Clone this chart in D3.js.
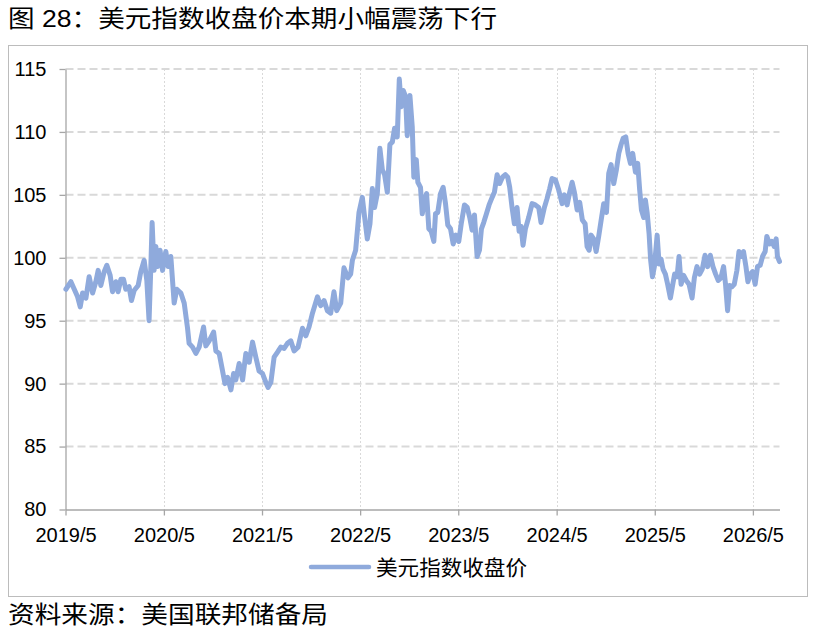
<!DOCTYPE html>
<html>
<head>
<meta charset="utf-8">
<script src="https://cdn.jsdelivr.net/npm/d3@7"></script>
<style>
  body { margin: 0; background: #fff; }
  svg { display: block; }
</style>
</head>
<body>
<svg id="chart" width="817" height="636"></svg>
<script>
// dates as decimal years
const dateYears = [
    2019.333, 2019.384, 2019.418, 2019.452, 2019.479, 2019.503, 2019.537, 2019.570, 2019.605, 2019.638,
    2019.662, 2019.689, 2019.723, 2019.750, 2019.784, 2019.808, 2019.842, 2019.865, 2019.893, 2019.920,
    2019.943, 2019.977, 2020.001, 2020.028, 2020.069, 2020.096, 2020.130, 2020.157, 2020.180, 2020.198,
    2020.211, 2020.231, 2020.249, 2020.266, 2020.292, 2020.317, 2020.350, 2020.374, 2020.401, 2020.435,
    2020.462, 2020.503, 2020.537, 2020.571, 2020.587, 2020.622, 2020.656, 2020.689, 2020.734, 2020.757,
    2020.791, 2020.836, 2020.859, 2020.893, 2020.927, 2020.951, 2020.978, 2021.012, 2021.039, 2021.062,
    2021.096, 2021.131, 2021.164, 2021.198, 2021.232, 2021.266, 2021.299, 2021.334, 2021.368, 2021.391,
    2021.419, 2021.452, 2021.487, 2021.520, 2021.554, 2021.588, 2021.622, 2021.656, 2021.696, 2021.741,
    2021.775, 2021.808, 2021.843, 2021.894, 2021.927, 2021.961, 2021.995, 2022.029, 2022.062, 2022.090,
    2022.131, 2022.164, 2022.205, 2022.232, 2022.250, 2022.283, 2022.317, 2022.351, 2022.375, 2022.402,
    2022.429, 2022.453, 2022.476, 2022.504, 2022.530, 2022.555, 2022.578, 2022.606, 2022.632, 2022.657,
    2022.680, 2022.707, 2022.728, 2022.748, 2022.768, 2022.792, 2022.809, 2022.836, 2022.860, 2022.876,
    2022.901, 2022.917, 2022.944, 2022.962, 2022.985, 2023.006, 2023.029, 2023.053, 2023.080, 2023.097,
    2023.120, 2023.148, 2023.175, 2023.199, 2023.222, 2023.250, 2023.277, 2023.304, 2023.334, 2023.359,
    2023.392, 2023.420, 2023.446, 2023.470, 2023.494, 2023.521, 2023.545, 2023.565, 2023.588, 2023.616,
    2023.643, 2023.674, 2023.697, 2023.725, 2023.751, 2023.779, 2023.809, 2023.833, 2023.853, 2023.877,
    2023.901, 2023.928, 2023.949, 2023.969, 2023.989, 2024.013, 2024.046, 2024.081, 2024.114, 2024.148,
    2024.172, 2024.206, 2024.233, 2024.260, 2024.284, 2024.318, 2024.351, 2024.386, 2024.409, 2024.437,
    2024.463, 2024.488, 2024.511, 2024.539, 2024.565, 2024.592, 2024.620, 2024.640, 2024.661, 2024.681,
    2024.707, 2024.732, 2024.758, 2024.783, 2024.809, 2024.837, 2024.860, 2024.884, 2024.911, 2024.938,
    2024.962, 2024.986, 2025.007, 2025.033, 2025.057, 2025.081, 2025.104, 2025.132, 2025.155, 2025.175,
    2025.193, 2025.216, 2025.233, 2025.251, 2025.271, 2025.287, 2025.305, 2025.325, 2025.353, 2025.373,
    2025.393, 2025.413, 2025.437, 2025.460, 2025.488, 2025.508, 2025.531, 2025.556, 2025.576, 2025.597,
    2025.623, 2025.650, 2025.678, 2025.709, 2025.732, 2025.759, 2025.786, 2025.813, 2025.841, 2025.867,
    2025.895, 2025.922, 2025.949, 2025.976, 2026.003, 2026.030, 2026.050, 2026.071, 2026.091, 2026.115,
    2026.139, 2026.166, 2026.187, 2026.210, 2026.233, 2026.258, 2026.278, 2026.302, 2026.325, 2026.352,
    2026.376, 2026.403, 2026.427, 2026.454, 2026.471, 2026.498, 2026.522, 2026.546, 2026.566, 2026.579,
    2026.600
];

const closeValues = [
    97.5, 98.1, 97.5, 96.9, 96.1, 97.2, 96.8, 98.5, 97.2, 98.1,
    99.0, 97.8, 98.9, 99.4, 98.6, 97.3, 98.1, 97.3, 98.3, 98.3,
    97.5, 97.7, 96.6, 97.4, 97.8, 98.9, 99.8, 98.2, 95.0, 99.3,
    102.8, 99.0, 100.9, 99.3, 100.6, 99.0, 100.5, 99.3, 100.1, 96.4,
    97.5, 97.2, 96.4, 94.4, 93.2, 92.9, 92.4, 92.9, 94.5, 93.0,
    93.4, 94.1, 92.6, 92.4, 91.0, 90.0, 90.5, 89.5, 90.8, 90.3,
    91.6, 90.3, 92.4, 91.7, 93.3, 92.1, 91.0, 90.8, 90.1, 89.7,
    90.1, 92.1, 92.5, 92.9, 92.8, 93.2, 93.4, 92.6, 92.9, 94.4,
    93.8, 94.5, 95.6, 96.9, 96.2, 96.6, 95.8, 95.6, 97.3, 95.8,
    96.4, 99.2, 98.4, 98.7, 99.8, 100.6, 103.6, 104.8, 103.2, 101.5,
    102.7, 105.5, 104.0, 105.1, 108.7, 107.0, 106.6, 105.2, 109.0, 109.2,
    110.3, 109.6, 114.2, 112.0, 113.3, 112.8, 109.7, 112.9, 110.4, 106.4,
    107.8, 106.0, 105.6, 103.5, 104.6, 105.1, 102.3, 102.1, 101.3, 103.5,
    103.6, 105.1, 105.6, 104.3, 102.6, 102.3, 101.1, 101.8, 101.3, 102.7,
    104.2, 104.0, 103.2, 102.2, 103.4, 100.1, 100.6, 102.3, 102.8, 103.5,
    104.2, 104.8, 105.2, 106.6, 105.9, 106.4, 106.6, 106.4, 105.6, 104.0,
    102.7, 104.0, 102.1, 102.5, 101.0, 102.3, 103.2, 104.3, 104.2, 104.0,
    102.8, 104.0, 104.7, 105.5, 106.3, 106.2, 105.4, 104.3, 105.0, 104.2,
    105.2, 106.0, 105.2, 103.8, 104.4, 103.0, 102.7, 100.9, 100.6, 101.8,
    101.5, 100.5, 101.7, 103.0, 104.3, 103.6, 106.7, 107.4, 105.9, 107.0,
    108.3, 109.0, 109.5, 109.6, 108.3, 107.5, 108.3, 106.8, 107.5, 105.4,
    103.8, 103.2, 104.6, 103.6, 101.9, 99.8, 98.5, 99.3, 101.8, 99.5,
    99.9, 99.1, 98.7, 97.9, 96.8, 97.7, 98.7, 98.5, 100.1, 97.9,
    98.6, 98.2, 97.9, 96.8, 98.4, 99.3, 98.7, 99.1, 100.2, 99.3,
    100.2, 99.3, 98.7, 98.2, 98.4, 99.3, 97.9, 95.8, 97.8, 97.7,
    97.9, 99.0, 100.5, 100.1, 100.5, 99.3, 98.1, 98.7, 98.9, 97.9,
    99.3, 99.4, 100.1, 100.5, 101.7, 101.1, 101.3, 100.9, 101.5, 100.1,
    99.7
];

const yTicks = [80, 85, 90, 95, 100, 105, 110, 115];
const xTickYears = [2019, 2020, 2021, 2022, 2023, 2024, 2025, 2026];
const xTickLabels = ["2019/5", "2020/5", "2021/5", "2022/5", "2023/5", "2024/5", "2025/5", "2026/5"];
const seriesName = "美元指数收盘价";
const titleText = "图 28：美元指数收盘价本期小幅震荡下行";
const sourceText = "资料来源：美国联邦储备局";

const svg = d3.select("#chart");
const width = 817;
const height = 636;
const latin = "'Liberation Sans', Arial, sans-serif";
const cjk = "'Liberation Sans', 'Noto Sans CJK SC', sans-serif";
const lineColor = "#8faadc";

function yearToDate(t) {
    const yr = Math.floor(t);
    const start = new Date(yr, 0, 1);
    const end = new Date(yr + 1, 0, 1);
    return new Date(+start + (t - yr) * (end - start));
}

const x = d3.scaleTime()
    .domain([new Date(2019, 4, 1), yearToDate(2026.6)])
    .range([65.5, 779.5]);
const y = d3.scaleLinear()
    .domain([80, 115])
    .range([509.5, 69]);

const tickDates = xTickYears.map(yr => new Date(yr, 4, 1));
const points = dateYears.map((t, i) => ({ date: yearToDate(t), value: closeValues[i] }));

// title and outer frame
svg.append("text")
    .attr("x", 8)
    .attr("y", 27)
    .attr("font-family", cjk)
    .attr("font-size", 24)
    .attr("textLength", 489)
    .attr("lengthAdjust", "spacingAndGlyphs")
    .attr("fill", "#000")
    .text(titleText);

svg.append("rect")
    .attr("x", 8.5)
    .attr("y", 45.5)
    .attr("width", 799)
    .attr("height", 551)
    .attr("fill", "none")
    .attr("stroke", "#bcbcbc")
    .attr("stroke-width", 1);

drawGrid();
drawAxes();

const line = d3.line()
    .x(d => x(d.date))
    .y(d => y(d.value));

svg.append("path")
    .datum(points)
    .attr("d", line)
    .attr("fill", "none")
    .attr("stroke", lineColor)
    .attr("stroke-width", 5)
    .attr("stroke-linejoin", "round")
    .attr("stroke-linecap", "round");

drawLegend();

svg.append("text")
    .attr("x", 8)
    .attr("y", 623)
    .attr("font-family", cjk)
    .attr("font-size", 24)
    .attr("textLength", 320)
    .attr("lengthAdjust", "spacingAndGlyphs")
    .attr("fill", "#000")
    .text(sourceText);

function drawGrid() {
    const g = svg.append("g");

    g.selectAll(".hgrid")
        .data(yTicks.filter(v => v > 80))
        .enter()
        .append("line")
        .attr("x1", x.range()[0])
        .attr("x2", x.range()[1])
        .attr("y1", d => y(d))
        .attr("y2", d => y(d))
        .attr("stroke", "#d9d9d9")
        .attr("stroke-width", 2)
        .attr("stroke-dasharray", "8,4");

    g.selectAll(".vgrid")
        .data(tickDates.slice(1))
        .enter()
        .append("line")
        .attr("x1", d => Math.round(x(d)) + 0.5)
        .attr("x2", d => Math.round(x(d)) + 0.5)
        .attr("y1", y(115))
        .attr("y2", y(80))
        .attr("stroke", "#d9d9d9")
        .attr("stroke-width", 1)
        .attr("stroke-dasharray", "2,2");
}

function drawAxes() {
    const axisColor = "#a6a6a6";

    const yAxis = svg.append("g")
        .attr("transform", `translate(${x.range()[0]},0)`)
        .call(d3.axisLeft(y).tickValues(yTicks).tickSize(6).tickSizeOuter(0).tickPadding(13));

    const xAxis = svg.append("g")
        .attr("transform", `translate(0,${y.range()[0]})`)
        .call(d3.axisBottom(x)
            .tickValues(tickDates)
            .tickFormat((d, i) => xTickLabels[i])
            .tickSize(6)
            .tickSizeOuter(0)
            .tickPadding(12));

    [yAxis, xAxis].forEach(a => {
        a.select(".domain").attr("stroke", axisColor).attr("stroke-width", 1.3);
        a.selectAll(".tick line").attr("stroke", axisColor).attr("stroke-width", 1.3);
        a.selectAll(".tick text")
            .attr("fill", "#000")
            .attr("font-family", latin)
            .attr("font-size", 20);
    });
}

function drawLegend() {
    const g = svg.append("g");

    g.append("line")
        .attr("x1", 311)
        .attr("x2", 369)
        .attr("y1", 567)
        .attr("y2", 567)
        .attr("stroke", lineColor)
        .attr("stroke-width", 4.5)
        .attr("stroke-linecap", "round");

    g.append("text")
        .attr("x", 376)
        .attr("y", 575)
        .attr("font-family", cjk)
        .attr("font-size", 21)
        .attr("textLength", 151)
        .attr("lengthAdjust", "spacingAndGlyphs")
        .attr("fill", "#000")
        .text(seriesName);
}
</script>
</body>
</html>
